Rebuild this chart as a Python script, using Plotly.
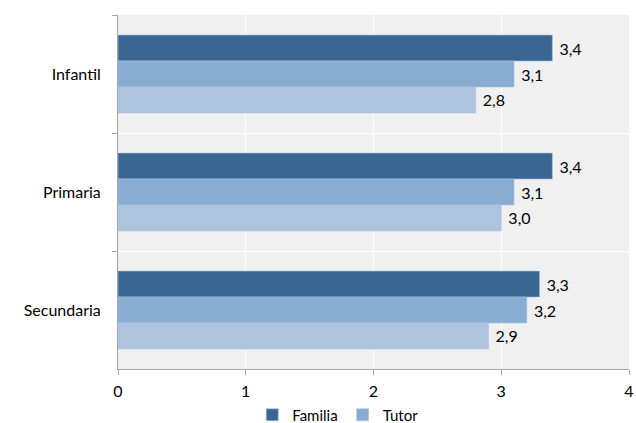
import plotly.graph_objects as go

categories = ["Infantil", "Primaria", "Secundaria"]
familia = [3.4, 3.4, 3.3]
tutor = [3.1, 3.1, 3.2]
tercero = [2.8, 3.0, 2.9]

series = [
    ("Familia", familia, "#3A6694", True),
    ("Tutor", tutor, "#89ADD2", True),
    ("", tercero, "#AEC4DE", False),
]

fig = go.Figure()
for name, vals, color, show in series:
    fig.add_trace(go.Bar(
        y=categories, x=vals, name=name, orientation="h",
        marker=dict(color=color, line=dict(color="#A9C1DC", width=0.6)),
        texttemplate=" %{x:.1f}", textposition="outside",
        textfont=dict(size=16, color="#000000"), cliponaxis=False,
        showlegend=show,
    ))

fig.update_layout(
    width=636, height=423,
    barmode="group", bargap=0.34, bargroupgap=0,
    separators=", ",
    plot_bgcolor="#F0F0F0", paper_bgcolor="#FFFFFF",
    font=dict(family="Lato, Liberation Sans, sans-serif", size=16, color="#000000"),
    margin=dict(l=118, r=7, t=15, b=54, autoexpand=False),
    legend=dict(orientation="h", x=0.43, xanchor="center", y=-0.13, yanchor="middle",
                font=dict(size=15), itemwidth=30, tracegroupgap=0),
    xaxis=dict(range=[0, 4], dtick=1, showgrid=True, gridcolor="#FFFFFF", gridwidth=1,
               showline=True, linecolor="#A6A6A6", ticks="outside", ticklen=5,
               tickcolor="#A6A6A6", zeroline=False, tickfont=dict(size=16),
               ticklabelstandoff=3),
    yaxis=dict(autorange="reversed", tickson="boundaries", showgrid=True,
               gridcolor="#FFFFFF", gridwidth=1, showline=True, linecolor="#A6A6A6",
               ticks="outside", ticklen=5, tickcolor="#A6A6A6",
               ticklabelstandoff=13, tickfont=dict(size=16)),
)

fig.write_html("out.html")
